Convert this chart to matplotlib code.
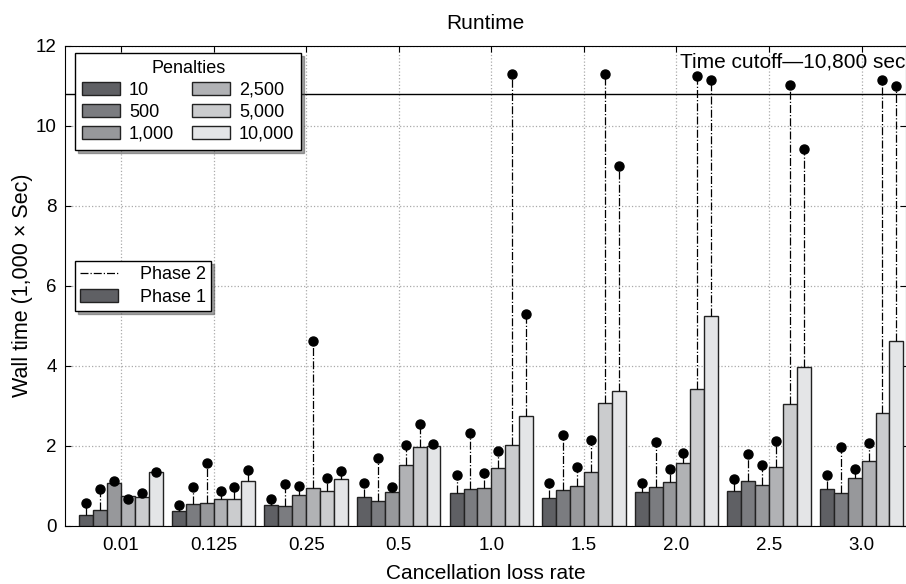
import matplotlib.pyplot as plt
import numpy as np
from matplotlib.patches import Patch
from matplotlib.lines import Line2D


rates = ['0.01', '0.125', '0.25', '0.5', '1.0', '1.5', '2.0', '2.5', '3.0']
penalties = ['10', '500', '1,000', '2,500', '5,000', '10,000']

# phase 1 wall time (bars), one list per penalty, values in 1,000 sec
phase1 = [
    [0.27, 0.375, 0.53, 0.72, 0.82, 0.70, 0.84, 0.875, 0.925],   # 10
    [0.39, 0.54, 0.49, 0.62, 0.925, 0.89, 0.96, 1.12, 0.81],     # 500
    [1.07, 0.56, 0.77, 0.84, 0.95, 1.00, 1.10, 1.02, 1.19],      # 1,000
    [0.75, 0.675, 0.94, 1.51, 1.45, 1.35, 1.57, 1.46, 1.62],     # 2,500
    [0.72, 0.67, 0.875, 1.975, 2.02, 3.08, 3.43, 3.05, 2.83],    # 5,000
    [1.34, 1.11, 1.16, 2.00, 2.74, 3.38, 5.23, 3.98, 4.61],      # 10,000
]

# phase 2 total wall time (dots)
phase2 = [
    [0.57, 0.53, 0.68, 1.07, 1.27, 1.07, 1.08, 1.17, 1.27],
    [0.93, 0.975, 1.04, 1.69, 2.32, 2.28, 2.10, 1.80, 1.97],
    [1.13, 1.56, 1.00, 0.97, 1.33, 1.48, 1.43, 1.52, 1.42],
    [0.68, 0.88, 4.62, 2.03, 1.86, 2.15, 1.83, 2.11, 2.06],
    [0.81, 0.975, 1.19, 2.54, 11.28, 11.28, 11.25, 11.02, 11.13],
    [1.34, 1.40, 1.36, 2.04, 5.28, 8.98, 11.13, 9.42, 11.00],
]

cutoff = 10.8
colors = ['#5f6064', '#7b7c80', '#97989b', '#b1b2b5', '#cbccce', '#e4e5e7']

plt.rcParams['font.family'] = 'Liberation Sans'
plt.rcParams['font.size'] = 13

fig = plt.figure(figsize=(9.06, 5.84), dpi=100)
ax = fig.add_axes([0.0717, 0.0998, 0.928, 0.822])

x = np.arange(len(rates))
w = 0.15
for k in range(len(penalties)):
    xs = x + (k - 2.5) * w
    ax.bar(xs, phase1[k], width=w, color=colors[k], edgecolor='#222222',
           linewidth=1.0, zorder=3)
    for xi, top, dot in zip(xs, phase1[k], phase2[k]):
        ax.plot([xi, xi], [top, dot], color='black', linestyle='-.',
                linewidth=0.9, zorder=4)
    ax.plot(xs, phase2[k], 'o', color='black', markersize=6.5, zorder=5)

ax.axhline(cutoff, color='black', linewidth=1.0, zorder=2)
ax.text(8.47, 11.6, 'Time cutoff\u201410,800 sec', ha='right', va='center',
        fontsize=15, zorder=6)

ax.set_xlim(-0.605, 8.476)
ax.set_ylim(0, 12)
ax.set_xticks(x)
ax.set_xticklabels(rates)
ax.set_yticks(np.arange(0, 13, 2))
ax.grid(True, linestyle=':', color='#aaaaaa', linewidth=0.9, zorder=0)
ax.set_axisbelow(True)
ax.tick_params(direction='in', top=True, right=True, length=4, labelsize=13.5)
ax.tick_params(axis='x', pad=8)
ax.tick_params(axis='y', pad=6)

ax.set_title('Runtime', fontsize=15, pad=12)
ax.set_xlabel('Cancellation loss rate', fontsize=15, labelpad=7)
ax.set_ylabel('Wall time (1,000 \u00d7 Sec)', fontsize=15.5, labelpad=2)

handles = [Patch(facecolor=c, edgecolor='#222222', label=p)
           for c, p in zip(colors, penalties)]
leg1 = ax.legend(handles=handles, title='Penalties', ncol=2,
                 loc='upper left', bbox_to_anchor=(0.012, 0.985),
                 fancybox=False, shadow=True, edgecolor='black',
                 framealpha=1, fontsize=13, title_fontsize=13,
                 handlelength=2.1, handleheight=0.75, columnspacing=1.0,
                 handletextpad=0.5, labelspacing=0.28, borderpad=0.38,
                 borderaxespad=0)
ax.add_artist(leg1)

phase_handles = [
    Line2D([0], [0], color='black', linestyle='-.', linewidth=0.9, label='Phase 2'),
    Patch(facecolor=colors[0], edgecolor='#222222', label='Phase 1'),
]
ax.legend(handles=phase_handles, loc='upper left', bbox_to_anchor=(0.012, 0.552),
          fancybox=False, shadow=True, edgecolor='black', framealpha=1,
          fontsize=13, handlelength=2.1, handleheight=0.75,
          handletextpad=1.2, labelspacing=0.3, borderpad=0.3,
          borderaxespad=0)

fig.savefig('out.png', dpi=100)
